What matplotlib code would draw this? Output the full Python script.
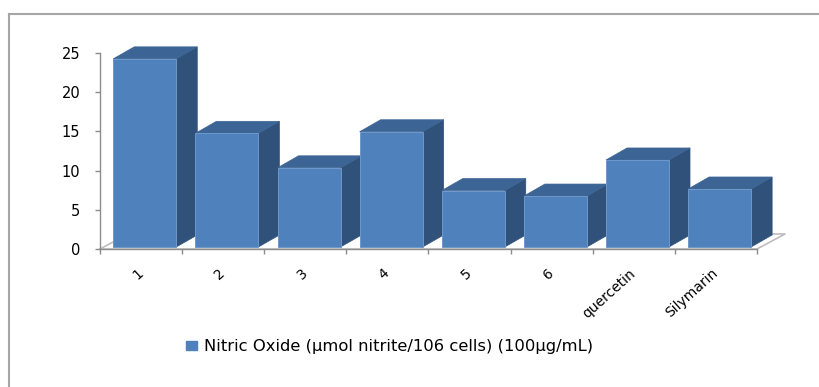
import matplotlib
matplotlib.use("Agg")
import matplotlib.pyplot as plt
from matplotlib.patches import Polygon, Patch
from matplotlib.lines import Line2D

# Nitric oxide release per compound at 100 ug/mL
categories = ["1", "2", "3", "4", "5", "6", "quercetin", "Silymarin"]
nitric_oxide = [24.0, 14.5, 10.1, 14.7, 7.2, 6.5, 11.1, 7.4]
y_ticks = [0, 5, 10, 15, 20, 25]
legend_label = "Nitric Oxide (\u00b5mol nitrite/106 cells) (100\u00b5g/mL)"

FRONT = "#4F81BD"
SIDE = "#30527A"
TOP = "#3C6595"
EDGE = "#6F97C9"
GRID_GRAY = "#BEBEBE"
AXIS_GRAY = "#8C8C8C"

W, H, DPI = 820, 387, 100
fig = plt.figure(figsize=(W / DPI, H / DPI), dpi=DPI)

# plot area in pixels: x from 100 to 757, y from 249 (zero) to 53 (25)
ax_left, ax_right, ax_bottom, ax_top = 100, 757, 249, 53
ax = fig.add_axes([ax_left / W, 1 - ax_bottom / H,
                   (ax_right - ax_left) / W, (ax_bottom - ax_top) / H])
n = len(categories)
ax.set_xlim(0, n)
ax.set_ylim(0, 25)

px_x = (ax_right - ax_left) / n
px_y = (ax_bottom - ax_top) / 25.0

# oblique depth of the floor and of each column (in data units)
floor_dx, floor_dy = 28 / px_x, 15 / px_y
front_dx, front_dy = 3.7 / px_x, 2 / px_y
depth_dx, depth_dy = 21 / px_x, 12 / px_y
bar_w = 63 / px_x

# floor outline
fx = [0, n, n + floor_dx, floor_dx, 0]
fy = [0, 0, floor_dy, floor_dy, 0]
ax.add_line(Line2D(fx, fy, color=GRID_GRAY, lw=1.2, zorder=1, clip_on=False))

for i, v in enumerate(nitric_oxide):
    x0 = i + (1 - bar_w) / 2 + front_dx
    x1 = x0 + bar_w
    y0 = front_dy
    y1 = front_dy + v
    z = 2 + i
    side = Polygon([(x1, y0), (x1 + depth_dx, y0 + depth_dy),
                    (x1 + depth_dx, y1 + depth_dy), (x1, y1)],
                   closed=True, facecolor=SIDE, edgecolor=SIDE, lw=0.5,
                   zorder=z, clip_on=False)
    top = Polygon([(x0, y1), (x0 + depth_dx, y1 + depth_dy),
                   (x1 + depth_dx, y1 + depth_dy), (x1, y1)],
                  closed=True, facecolor=TOP, edgecolor=TOP, lw=0.5,
                  zorder=z, clip_on=False)
    ax.add_patch(side)
    ax.add_patch(top)
    ax.bar(x0, v, width=bar_w, bottom=y0, align="edge", color=FRONT,
           edgecolor=EDGE, linewidth=0.7, zorder=z + 0.5, clip_on=False)

for s in ("top", "right"):
    ax.spines[s].set_visible(False)
for s in ("left", "bottom"):
    ax.spines[s].set_color(AXIS_GRAY)
    ax.spines[s].set_linewidth(1.0)
ax.spines["bottom"].set_zorder(1.5)

ax.set_yticks(y_ticks)
ax.set_yticklabels([str(t) for t in y_ticks], fontsize=10.5)
ax.tick_params(axis="y", length=3.6, width=1, color=AXIS_GRAY, pad=10.5)

# category boundaries carry the tick marks, centers carry the labels
ax.set_xticks(range(n + 1))
ax.set_xticklabels([])
ax.tick_params(axis="x", which="major", length=3.6, width=1,
               color=AXIS_GRAY, direction="out")
ax.set_xticks([i + 0.5 for i in range(n)], minor=True)
ax.set_xticklabels(categories, minor=True, fontsize=10, rotation=42,
                   ha="right", va="center", rotation_mode="anchor")
ax.tick_params(axis="x", which="minor", length=0, pad=16)

fig.legend(handles=[Patch(facecolor=FRONT, edgecolor=FRONT)],
           labels=[legend_label], loc="center left",
           bbox_to_anchor=(186 / W, 1 - 347 / H), frameon=False,
           fontsize=11.8, borderpad=0, borderaxespad=0,
           handlelength=0.7, handleheight=0.5, handletextpad=0.4)

# chart border (open towards the right and bottom edges)
fig.add_artist(Line2D([9 / W, 1.0], [1 - 14 / H, 1 - 14 / H],
                      transform=fig.transFigure, color="#A6A6A6", lw=1.5))
fig.add_artist(Line2D([9 / W, 9 / W], [1 - 14 / H, 0.0],
                      transform=fig.transFigure, color="#A6A6A6", lw=1.5))

fig.savefig("out.png", dpi=DPI)
